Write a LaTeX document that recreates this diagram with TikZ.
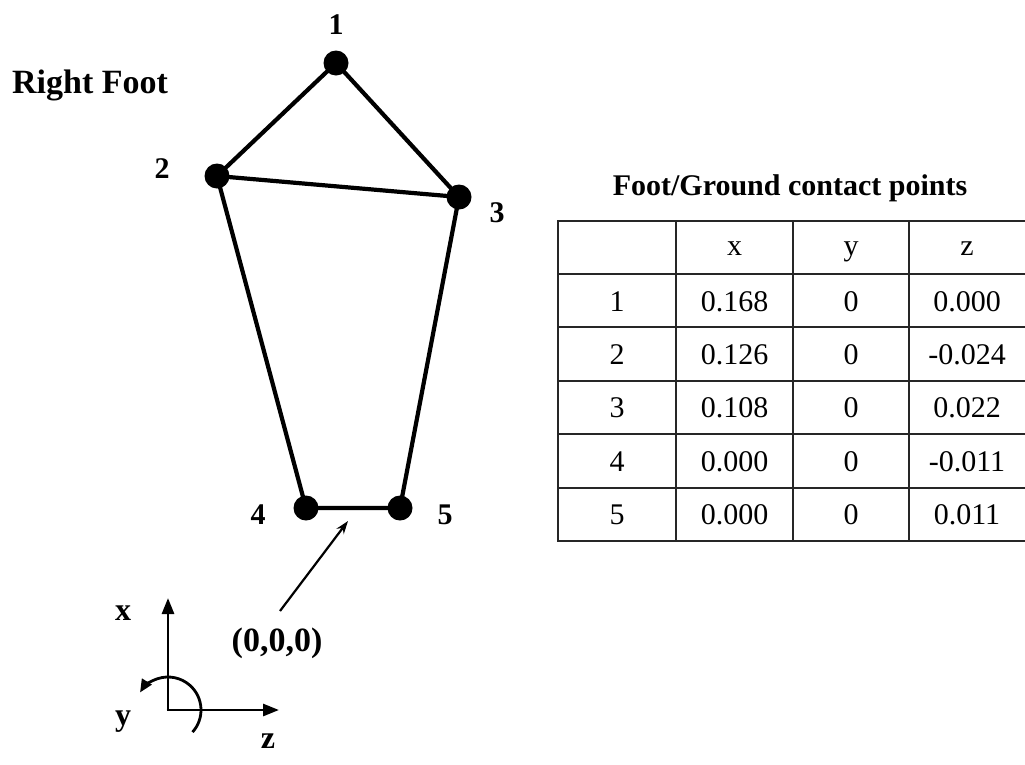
\documentclass[tikz,border=0pt]{standalone}
\usepackage{fontspec}
\setmainfont{Liberation Serif}
\usetikzlibrary{arrows.meta}
\tikzset{
  dot/.style={circle,fill=black,inner sep=0pt,minimum size=25pt},
  edge/.style={line width=4.2pt},
  lbl/.style={font=\fontsize{30}{36}\selectfont\bfseries,inner sep=0pt},
  axlbl/.style={font=\fontsize{32}{38}\selectfont\bfseries,inner sep=0pt},
  cell/.style={font=\fontsize{30}{36}\selectfont,inner sep=0pt,anchor=base},
  tline/.style={line width=1.8pt,draw=black!85},
  axis/.style={line width=2.8pt,-{Triangle[length=16pt,width=12pt]}},
  pointer/.style={line width=2.2pt,-{Stealth[length=13pt,width=9pt]}}
}
\begin{document}
\begin{tikzpicture}[x=1pt,y=-1pt]
\useasboundingbox[fill=white] (0,0) rectangle (1025,764);
% title
\node[font=\fontsize{34}{40}\selectfont\bfseries,anchor=west,inner sep=0pt] (rf) at (12,85) {Right Foot};
% foot points
\node[dot] (p1) at (336,63) {};
\node[dot] (p2) at (217,176) {};
\node[dot] (p3) at (459,197) {};
\node[dot] (p4) at (306,508) {};
\node[dot] (p5) at (400,508) {};
\draw[edge] (p1.center) -- (p2.center) -- (p3.center) -- (p1.center);
\draw[edge] (p2.center) -- (p4.center) -- (p5.center) -- (p3.center);
\node[lbl] (l1) at (336,25) {1};
\node[lbl] (l2) at (162,169) {2};
\node[lbl] (l3) at (497,213) {3};
\node[lbl] (l4) at (258,515) {4};
\node[lbl] (l5) at (445,515) {5};
% origin pointer
\node[font=\fontsize{34}{40}\selectfont\bfseries,inner sep=0pt] (O) at (277,643) {(0,0,0)};
\coordinate (otail) at (280,611);
\coordinate (otip) at (348,521);
\draw[pointer] (otail) -- (otip);
% axes
\coordinate (orig) at (168,710);
\coordinate (xt) at (168,598);
\coordinate (zt) at (279,710);
\draw[axis] (orig) -- (xt);
\draw[axis] ([xshift=-1.4pt]orig) -- (zt);
\draw[line width=2.8pt,-{Triangle[length=13pt,width=11pt]}] ([shift={(42:33)}]orig) arc[start angle=42, end angle=-148, radius=33];
\node[axlbl] (ax) at (123,613) {x};
\node[axlbl] (ay) at (123,722) {y};
\node[axlbl] (az) at (268,741) {z};
% table
\node[font=\fontsize{30}{36}\selectfont\bfseries,inner sep=0pt] (tt) at (790,188) {Foot/Ground contact points};
\draw[tline] (1026,221) -- (558,221) -- (558,541) -- (1026,541);
\foreach \yy in {274,327,381,434,488} {\draw[tline] (558,\yy) -- (1026,\yy);}
\foreach \xx in {676,793,909} {\draw[tline] (\xx,221) -- (\xx,541);}
\node[cell] (hx) at (734.5,255) {x};
\node[cell] (hy) at (851,255) {y};
\node[cell] (hz) at (967,255) {z};
\foreach \r/\a/\b/\c [count=\i] in {1/0.168/0/0.000,2/0.126/0/-0.024,3/0.108/0/0.022,4/0.000/0/-0.011,5/0.000/0/0.011} {
  \pgfmathsetmacro{\yc}{274+53.4*(\i-1)+27+10}
  \node[cell] (r\i a) at (617,\yc) {\r};
  \node[cell] (r\i b) at (734.5,\yc) {\a};
  \node[cell] (r\i c) at (851,\yc) {\b};
  \node[cell] (r\i d) at (967,\yc) {\c};
}
\end{tikzpicture}
\end{document}
